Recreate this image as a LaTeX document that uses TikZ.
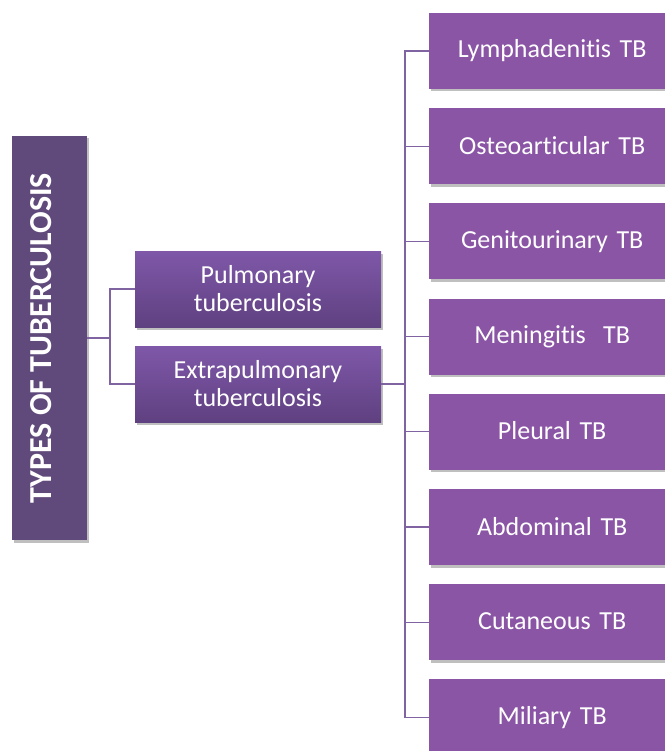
\documentclass[tikz,border=0pt]{standalone}
\usepackage{fontspec}
\setmainfont{Carlito}[Ligatures={NoCommon}]
\usetikzlibrary{shadows}
\definecolor{titlebg}{HTML}{604A7B}
\definecolor{leafbg}{HTML}{8B55A6}
\definecolor{midtop}{HTML}{7F58A9}
\definecolor{midbot}{HTML}{5F4080}
\definecolor{linkc}{HTML}{8064A2}
\tikzset{
  boxshadow/.style={drop shadow={shadow xshift=1.5pt,shadow yshift=-2.5pt,fill=black,opacity=0.25}},
  titlebox/.style={rectangle,fill=titlebg,minimum width=75pt,minimum height=404pt,inner sep=0pt,boxshadow},
  midbox/.style={rectangle,top color=midtop,bottom color=midbot,minimum width=246pt,minimum height=76pt,inner sep=0pt,align=center,text=white,font=\fontsize{26}{28}\selectfont,boxshadow},
  leafbox/.style={rectangle,fill=leafbg,minimum width=246pt,minimum height=76pt,inner sep=0pt,text=white,font=\fontsize{26}{28}\selectfont,boxshadow},
  link/.style={draw=linkc,line width=1.3pt},
}
\begin{document}
\begin{tikzpicture}[x=1pt,y=-1pt]
\useasboundingbox (0,0) rectangle (664,751);
\node[titlebox] (title) at (49.5,338) {};
\node[rotate=90,text=white,font=\bfseries\fontsize{32}{36}\selectfont] (titletext) at ([xshift=-8pt]title.center) {TYPES OF TUBERCULOSIS};
\node[midbox] (pul) at (258,289) {Pulmonary\\tuberculosis};
\node[midbox] (ext) at (258,384) {Extrapulmonary\\tuberculosis};
\foreach \n/\t [count=\i from 0] in {lym/Lymphadenitis TB,ost/Osteoarticular TB,gen/Genitourinary TB,men/Meningitis~~TB,ple/Pleural TB,abd/Abdominal TB,cut/Cutaneous TB,mil/Miliary TB}{
  \node[leafbox,text width=235pt,align=center,anchor=west] (\n) at (429,{51+95.2*\i}) {\raisebox{2pt}{\t}};
}
\coordinate (j1) at (110,338);
\draw[link] (title.east|-j1) -- (j1);
\draw[link] (pul.west) -| (j1) |- (ext.west);
\coordinate (j2) at (405,384);
\draw[link] (ext.east) -- (j2);
\draw[link] (lym.west) -| (j2) |- (mil.west);
\foreach \n in {ost,gen,men,ple,abd,cut}{
  \draw[link] (j2|-\n.west) -- (\n.west);
}
\end{tikzpicture}
\end{document}
